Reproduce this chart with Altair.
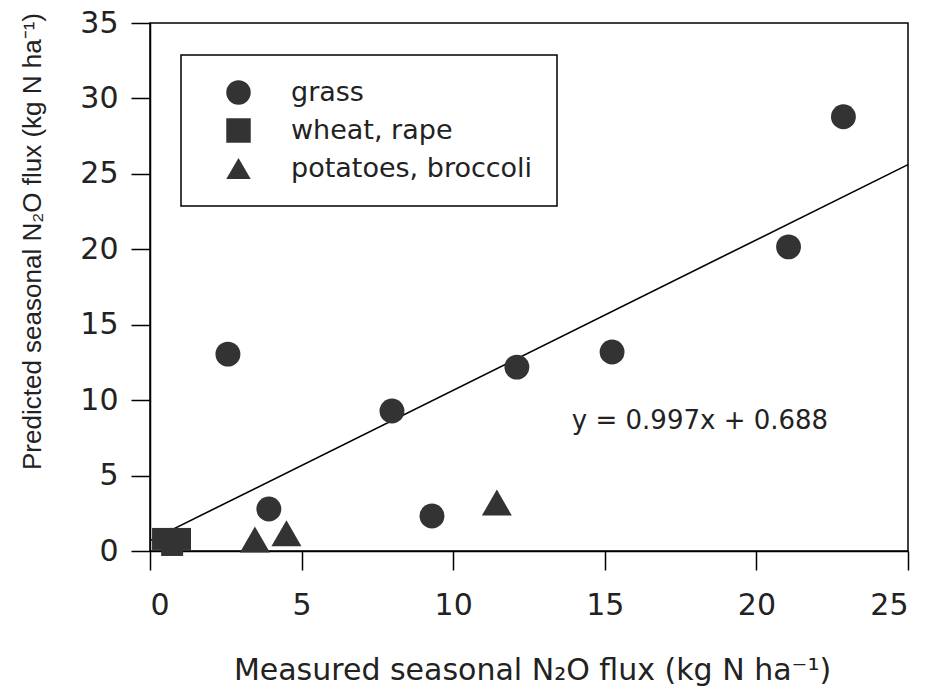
import altair as alt
import pandas as pd

# Seasonal N2O flux: measured vs predicted, by crop group
grass_measured = [2.57, 3.92, 7.98, 9.30, 12.10, 15.24, 21.06, 22.87]
grass_predicted = [13.05, 2.78, 9.28, 2.32, 12.19, 13.19, 20.16, 28.79]
wheat_measured = [0.43, 0.99, 0.73]
wheat_predicted = [0.80, 0.80, 0.40]
potato_measured = [3.46, 4.50, 11.44]
potato_predicted = [0.76, 1.17, 3.21]

crops = ["grass", "wheat, rape", "potatoes, broccoli"]
crop_shapes = ["circle", "square", "triangle-up"]
crop_sizes = [620, 484, 900]

# Regression line through all points
slope, intercept = 0.997, 0.688
fit_ends = [0, 25]

x_ticks = [0, 5, 10, 15, 20, 25]
y_ticks = [0, 5, 10, 15, 20, 25, 30, 35]

points = pd.DataFrame({
    "measured": grass_measured + wheat_measured + potato_measured,
    "predicted": grass_predicted + wheat_predicted + potato_predicted,
    "crop": [crops[0]] * len(grass_measured)
    + [crops[1]] * len(wheat_measured)
    + [crops[2]] * len(potato_measured),
})
points["marker_size"] = points["crop"].map(dict(zip(crops, crop_sizes)))
fit = pd.DataFrame({
    "measured": fit_ends,
    "predicted": [slope * v + intercept for v in fit_ends],
})
equation_label = pd.DataFrame({"label": [f"y = {slope}x + {intercept}"]})

INK = "#222222"
MARK = "#333333"

x_scale = alt.Scale(domain=[0, 25], nice=False, zero=True)
y_scale = alt.Scale(domain=[0, 35], nice=False, zero=True)

x_axis = alt.Axis(
    values=x_ticks,
    title="Measured seasonal N₂O flux (kg N ha⁻¹)",
    titleFont="DejaVu Sans",
    titleFontSize=30,
    titleFontWeight="normal",
    titleColor=INK,
    titleAlign="center",
    titleBaseline="alphabetic",
    titleX=382,
    titleY=128,
    labelPadding=20,
)
y_axis = alt.Axis(
    values=y_ticks,
    title="Predicted seasonal N₂O flux (kg N ha⁻¹)",
    titleFont="Liberation Sans",
    titleFontSize=26,
    titleFontWeight="normal",
    titleColor=INK,
    titleAngle=270,
    titleAlign="center",
    titleBaseline="alphabetic",
    titleX=-110,
    titleY=218,
    labelPadding=13,
)

legend = alt.Legend(
    title=None,
    orient="none",
    legendX=31,
    legendY=32,
    padding=24,
    strokeColor="black",
    fillColor="white",
    labelFont="DejaVu Sans",
    labelFontSize=27,
    labelColor=INK,
    labelLimit=600,
    labelOffset=39,
    symbolOffset=20,
    symbolSize=600,
    symbolFillColor=MARK,
    symbolStrokeWidth=0,
    rowPadding=10,
)

line = alt.Chart(fit).mark_line(color="black", strokeWidth=1.6).encode(
    x=alt.X("measured:Q", scale=x_scale, axis=x_axis),
    y=alt.Y("predicted:Q", scale=y_scale, axis=y_axis),
)

# marker area per crop group is carried straight through (identity scale)
dots = alt.Chart(points).mark_point(
    filled=True, color=MARK, opacity=1, strokeWidth=0
).encode(
    x=alt.X("measured:Q", scale=x_scale),
    y=alt.Y("predicted:Q", scale=y_scale),
    shape=alt.Shape("crop:N", scale=alt.Scale(domain=crops, range=crop_shapes),
                    sort=crops, legend=legend),
    size=alt.Size("marker_size:Q", scale=None, legend=None),
)

equation = alt.Chart(equation_label).mark_text(
    font="DejaVu Sans", fontSize=26, color=INK, align="center", baseline="alphabetic"
).encode(
    x=alt.datum(18.14),
    y=alt.datum(8.08),
    text="label:N",
)

chart = (
    alt.layer(line, dots, equation)
    .properties(
        width=758,
        height=528,
        autosize=alt.AutoSizeParams(type="none"),
        padding={"left": 150, "top": 23, "right": 23, "bottom": 142},
        background="white",
    )
    .configure_view(stroke="black", strokeWidth=1.5)
    .configure_legend(strokeWidth=1.5)
    .configure_axis(
        grid=False,
        domainColor="black",
        domainWidth=1.5,
        tickColor="black",
        tickWidth=1.5,
        tickSize=19,
        labelFont="DejaVu Sans",
        labelFontSize=30,
        labelColor=INK,
    )
)

chart.save("out.html", embed_options={"renderer": "svg", "actions": False})
